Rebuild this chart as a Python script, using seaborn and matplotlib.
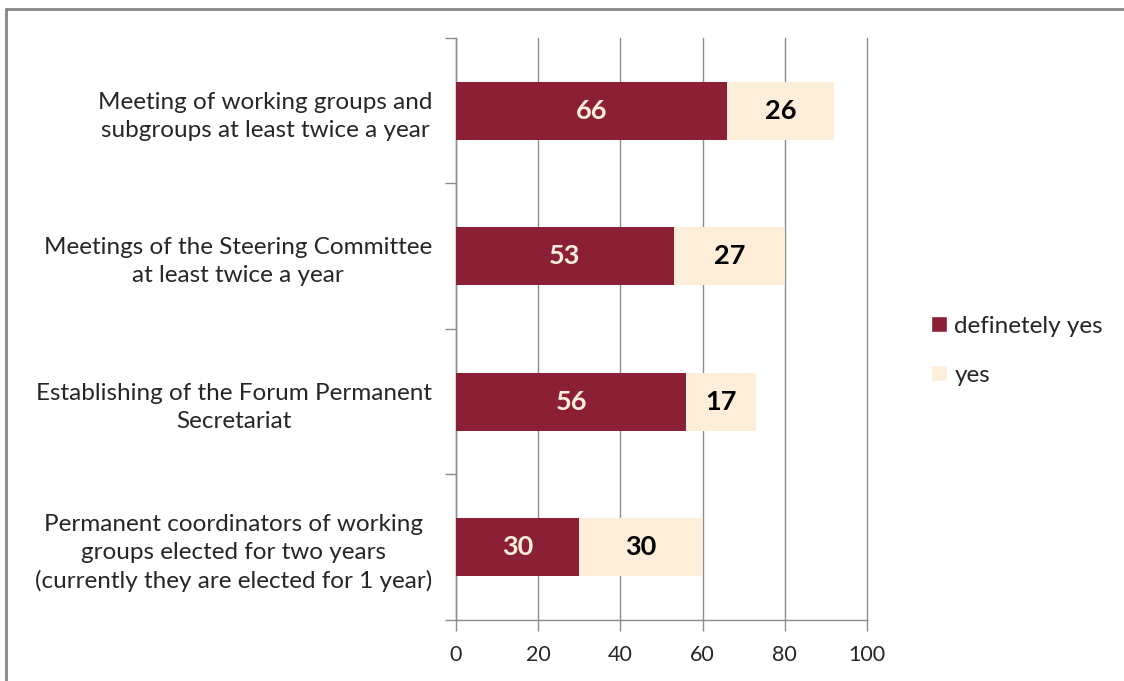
import matplotlib
matplotlib.use("Agg")
import matplotlib.pyplot as plt
import seaborn as sns
import pandas as pd
from matplotlib.patches import Patch
from matplotlib.lines import Line2D

categories = [
    "Meeting of working groups and\nsubgroups at least twice a year",
    "Meetings of the Steering Committee\nat least twice a year",
    "Establishing of the Forum Permanent\nSecretariat",
    "Permanent coordinators of working\ngroups elected for two years\n(currently they are elected for 1 year)",
]
definitely_yes = [66, 53, 56, 30]
yes = [26, 27, 17, 30]
x_ticks = [0, 20, 40, 60, 80, 100]

dark = "#8B1F36"
light = "#FDEEDA"
grid_col = "#8C8C8C"

sns.set_theme(style="white")
plt.rcParams["font.family"] = ["Lato", "DejaVu Sans"]

df = pd.DataFrame({"cat": categories, "dy": definitely_yes, "y": yes})
df["total"] = df["dy"] + df["y"]

fig = plt.figure(figsize=(11.24, 6.81), dpi=100)
ax = fig.add_axes([0.4057, 0.0896, 0.3656, 0.8546])

sns.barplot(data=df, x="total", y="cat", color=light, width=0.4, ax=ax,
            saturation=1, edgecolor="none", zorder=3)
sns.barplot(data=df, x="dy", y="cat", color=dark, width=0.4, ax=ax,
            saturation=1, edgecolor="none", zorder=3)

# value labels
for i, (d, y) in enumerate(zip(definitely_yes, yes)):
    ax.text(d / 2, i, str(d), ha="center", va="center", color=light,
            fontsize=19.5, fontweight="bold", zorder=4)
    ax.text(d + y / 2, i, str(y), ha="center", va="center", color="black",
            fontsize=19.5, fontweight="bold", zorder=4)

ax.set_xlim(0, 100)
ax.set_ylim(len(categories) - 0.5, -0.5)
ax.set_xticks(x_ticks)
ax.set_xticklabels([str(t) for t in x_ticks], fontsize=15.5)
ax.set_xlabel("")
ax.set_ylabel("")
ax.set_yticks(range(len(categories)))
ax.set_yticklabels(categories, fontsize=17.5, multialignment="center",
                   linespacing=1.42)
ax.set_yticks([i - 0.5 for i in range(len(categories) + 1)], minor=True)
ax.tick_params(axis="y", which="major", length=0, pad=17)
ax.tick_params(axis="y", which="minor", length=8, color=grid_col, width=1,
               direction="out", left=True)
ax.tick_params(axis="x", which="major", length=8, color=grid_col, width=1,
               direction="out", bottom=True, pad=10)

ax.xaxis.grid(True, color=grid_col, linewidth=1, zorder=0)
for gl in ax.get_xgridlines():
    gl.set_clip_on(False)
ax.set_axisbelow(True)
for s in ["top", "right"]:
    ax.spines[s].set_visible(False)
for s in ["left", "bottom"]:
    ax.spines[s].set_color(grid_col)
    ax.spines[s].set_linewidth(1)

handles = [Patch(facecolor=dark, label="definetely yes"),
           Patch(facecolor=light, label="yes")]
fig.legend(handles=handles, loc="center left", bbox_to_anchor=(0.809, 0.485),
           frameon=False, fontsize=17.5, handlelength=0.65, handleheight=0.65,
           handletextpad=0.3, labelspacing=1.15)

# chart border (top and left edges visible)
fig.add_artist(Line2D([0.0055, 0.0055], [0, 0.9868], transform=fig.transFigure,
                      color="#878787", linewidth=2))
fig.add_artist(Line2D([0.0055, 1.0], [0.9868, 0.9868], transform=fig.transFigure,
                      color="#878787", linewidth=2))

fig.savefig("out.png", dpi=100)
